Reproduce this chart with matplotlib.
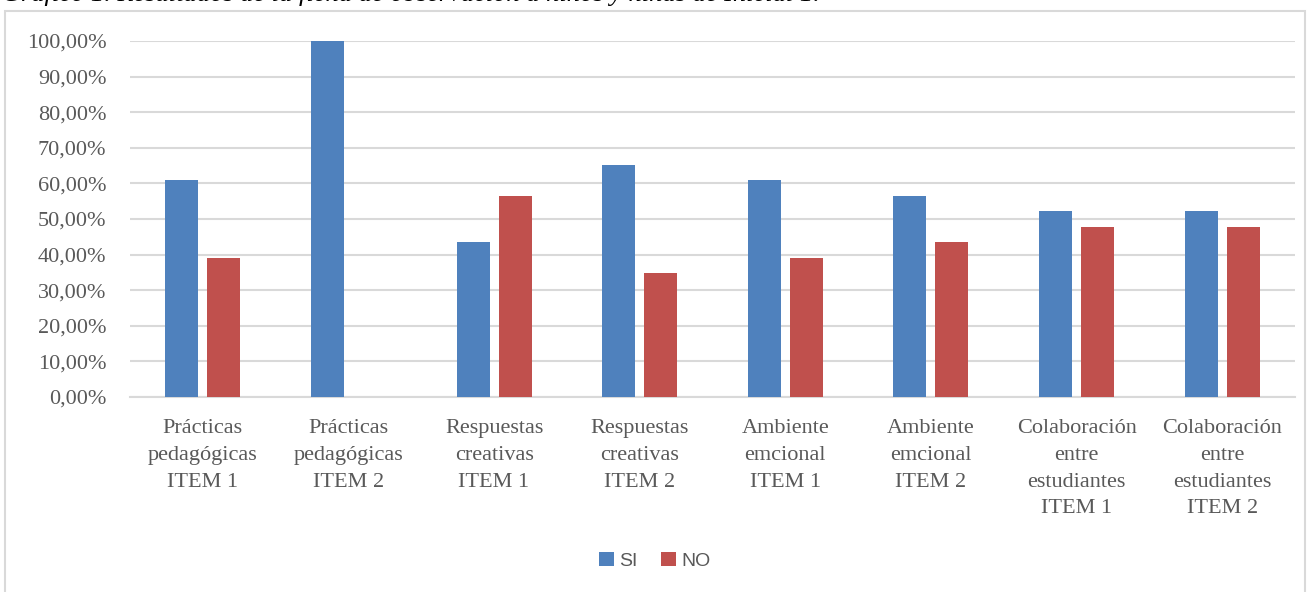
import matplotlib.pyplot as plt
import matplotlib.patches as mpatches
from matplotlib.ticker import FuncFormatter
import numpy as np

categories = [
    "Prácticas\npedagógicas\nITEM 1",
    "Prácticas\npedagógicas\nITEM 2",
    "Respuestas\ncreativas\nITEM 1",
    "Respuestas\ncreativas\nITEM 2",
    "Ambiente\nemcional\nITEM 1",
    "Ambiente\nemcional\nITEM 2",
    "Colaboración\nentre\nestudiantes\nITEM 1",
    "Colaboración\nentre\nestudiantes\nITEM 2",
]
si_values = [0.6087, 1.0, 0.4348, 0.6522, 0.6087, 0.5652, 0.5217, 0.5217]
no_values = [0.3913, 0.0, 0.5652, 0.3478, 0.3913, 0.4348, 0.4783, 0.4783]

blue = '#4F81BD'
red = '#C0504D'
grid_col = '#D9D9D9'
text_col = '#595959'

fig = plt.figure(figsize=(13.1, 5.92), dpi=100)

# outer chart border
fig.patches.append(mpatches.Rectangle((5 / 1310, -0.01), 1300 / 1310, 1 - 11 / 592 + 0.01,
                                      transform=fig.transFigure, fill=False,
                                      edgecolor=grid_col, linewidth=1.5))

# caption cut off at the top of the picture
fig.text(2 / 1310, 1.0 + 5 / 592, "Gráfico 1. Resultados de la ficha de observación a niños y niñas de Inicial 1.",
         family='Liberation Serif', style='italic', fontsize=19, color='black',
         ha='left', va='center')

ax = fig.add_axes([130 / 1310, 1 - 397 / 592, 1165 / 1310, 356 / 592])

x = np.arange(len(categories))
w = 0.227
off = 0.144
ax.bar(x - off, si_values, width=w, color=blue, label='SI', zorder=3)
ax.bar(x + off, no_values, width=w, color=red, label='NO', zorder=3)

ax.set_xlim(-0.5, len(categories) - 0.5)
ax.set_ylim(0, 1.0)
ax.set_yticks(np.arange(0, 1.01, 0.1))
ax.yaxis.set_major_formatter(FuncFormatter(lambda v, p: f"{v * 100:.2f}%".replace('.', ',')))
ax.grid(True, axis='y', color=grid_col, linewidth=1.5, zorder=0)
ax.set_axisbelow(True)

for s in ['top', 'right', 'left']:
    ax.spines[s].set_visible(False)
ax.spines['bottom'].set_color(grid_col)
ax.spines['bottom'].set_linewidth(1.5)

ax.set_xticks(x)
ax.set_xticklabels(categories, family='Liberation Serif', fontsize=16, color=text_col,
                   linespacing=1.55, va='top')
ax.tick_params(axis='x', length=0, pad=16)
ax.tick_params(axis='y', length=0, pad=17, labelsize=16, labelcolor=text_col)
for lbl in ax.get_yticklabels():
    lbl.set_family('Liberation Serif')

leg = fig.legend(loc='center', bbox_to_anchor=(655 / 1310, 1 - 561 / 592), ncol=2, frameon=False,
                 prop={'family': 'Liberation Sans', 'size': 14}, handlelength=0.75, handleheight=0.75,
                 handletextpad=0.3, columnspacing=1.2)
for t in leg.get_texts():
    t.set_color(text_col)

plt.savefig('out.png', dpi=100)
